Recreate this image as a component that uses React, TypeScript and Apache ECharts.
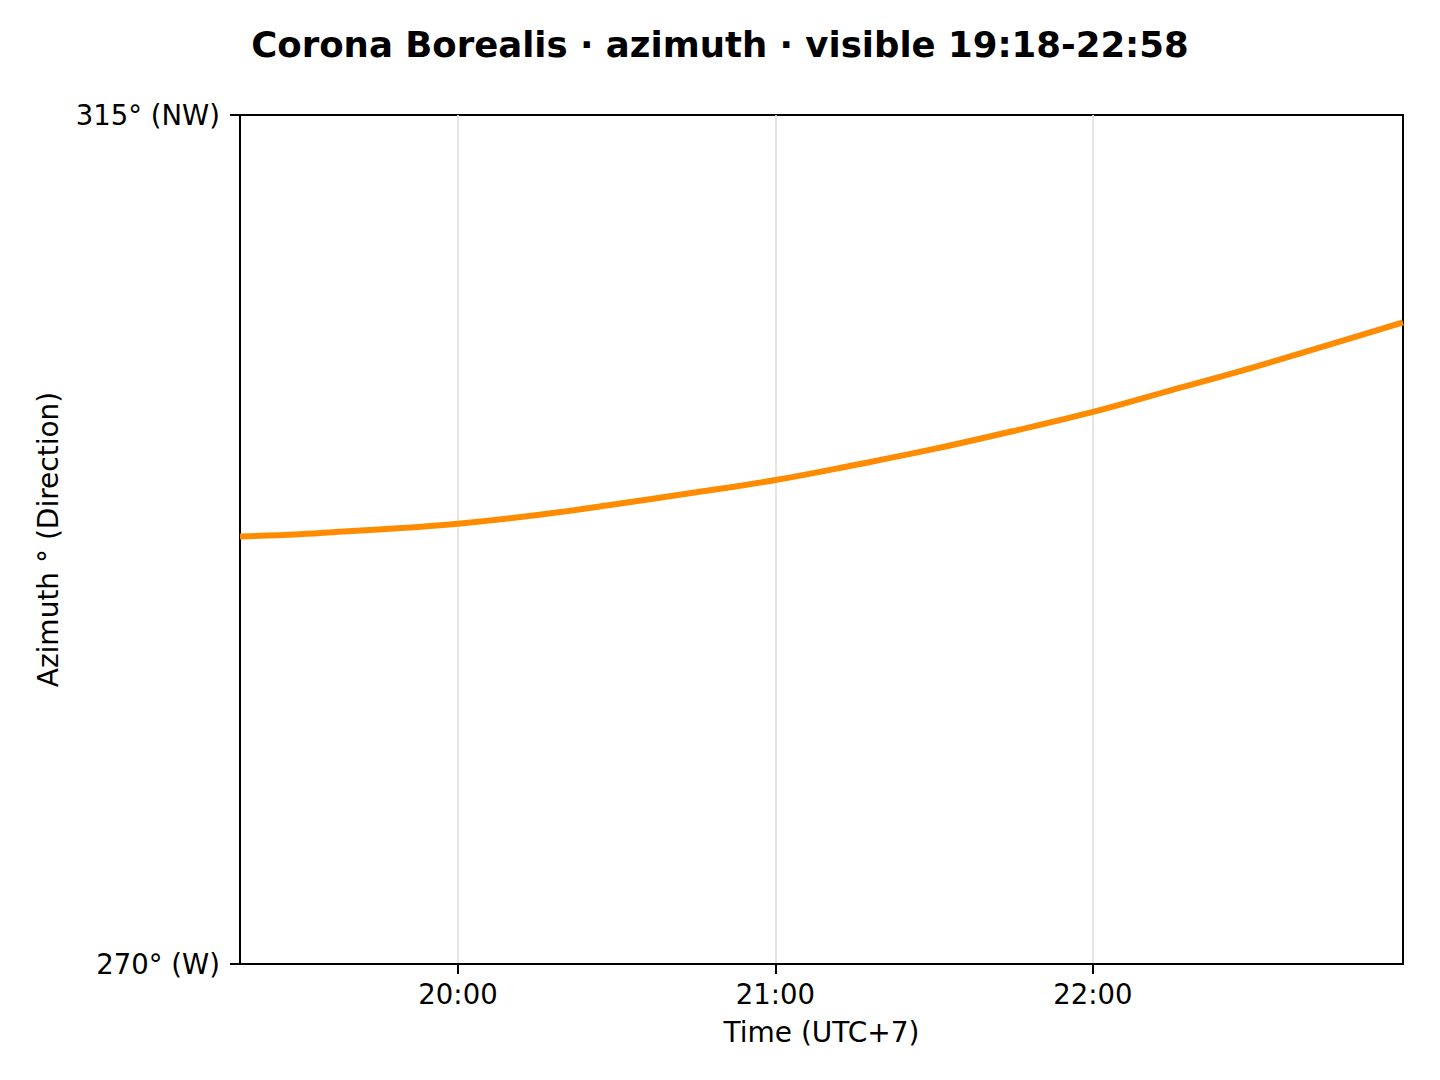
import React, { useEffect, useRef } from 'react';
import * as echarts from 'echarts';

// Azimuth of Corona Borealis
const times = [
  '19:18', '19:30', '19:40', '19:50', '20:00', '20:15', '20:30', '20:45',
  '21:00', '21:15', '21:30', '21:45', '22:00', '22:15', '22:30', '22:45', '22:58',
];
const azimuth = [
  292.66, 292.78, 292.95, 293.12, 293.33, 293.8, 294.38, 295.0,
  295.65, 296.45, 297.3, 298.25, 299.26, 300.43, 301.6, 302.85, 304.01,
];
const hourTicks = ['20:00', '21:00', '22:00'];
const yTickLabels: Record<number, string> = { 270: '270° (W)', 315: '315° (NW)' };
// visible window edges, in minutes after midnight (19:18:48 - 22:58:36)
const windowStart = 1158.8;
const windowEnd = 1378.6;

const toMin = (t: string) => {
  const [h, m] = t.split(':').map(Number);
  return h * 60 + m;
};
const fmt = (v: number) => {
  const h = Math.floor(v / 60);
  const m = Math.round(v % 60);
  return `${h}:${m < 10 ? '0' + m : m}`;
};

const FONT = '"DejaVu Sans", sans-serif';

const App: React.FC = () => {
  const chartRef = useRef<HTMLDivElement>(null);

  useEffect(() => {
    document.body.style.margin = '0';
    if (!chartRef.current) return;
    const chart = echarts.init(chartRef.current, null, { renderer: 'svg' });
    const tickVals = hourTicks.map(toMin);

    chart.setOption({
      animation: false,
      backgroundColor: '#fff',
      title: {
        text: 'Corona Borealis · azimuth · visible 19:18-22:58',
        left: 'center',
        top: 21,
        textStyle: { fontFamily: FONT, fontSize: 35.5, fontWeight: 'bold', color: '#000' },
      },
      grid: {
        left: 240,
        right: 37,
        top: 115,
        bottom: 116,
        show: true,
        borderColor: '#000',
        borderWidth: 2,
        containLabel: false,
      },
      xAxis: {
        type: 'value',
        min: windowStart,
        max: windowEnd,
        name: 'Time (UTC+7)',
        nameLocation: 'middle',
        nameGap: 54,
        nameTextStyle: { fontFamily: FONT, fontSize: 28, color: '#000' },
        axisLine: { show: true, lineStyle: { color: '#000', width: 2 } },
        axisTick: { show: true, length: 10, lineStyle: { color: '#000', width: 2 }, customValues: tickVals },
        axisLabel: {
          customValues: tickVals,
          margin: 16,
          fontFamily: FONT,
          fontSize: 27.5,
          color: '#000',
          formatter: (v: number) => fmt(v),
        },
        splitLine: { show: true, lineStyle: { color: '#e3e3e3', width: 1.8 } },
      },
      yAxis: {
        type: 'value',
        min: 270,
        max: 315,
        interval: 45,
        name: 'Azimuth ° (Direction)',
        nameLocation: 'middle',
        nameGap: 178,
        nameTextStyle: { fontFamily: FONT, fontSize: 28, color: '#000' },
        axisLine: { show: true, lineStyle: { color: '#000', width: 2 } },
        axisTick: { show: true, length: 10, lineStyle: { color: '#000', width: 2 } },
        axisLabel: {
          margin: 20,
          fontFamily: FONT,
          fontSize: 27.5,
          color: '#000',
          formatter: (v: number) => yTickLabels[v] ?? String(v),
        },
        splitLine: { show: false },
      },
      series: [
        {
          type: 'line',
          data: times.map((t, i) => [
            i === 0 ? windowStart : i === times.length - 1 ? windowEnd : toMin(t),
            azimuth[i],
          ]),
          smooth: 0.4,
          showSymbol: false,
          lineStyle: { color: '#ff8c00', width: 6 },
          itemStyle: { color: '#ff8c00' },
          clip: true,
        },
      ],
    });

    return () => {
      chart.dispose();
    };
  }, []);

  return <div ref={chartRef} style={{ width: '1440px', height: '1080px' }} />;
};

export default App;
